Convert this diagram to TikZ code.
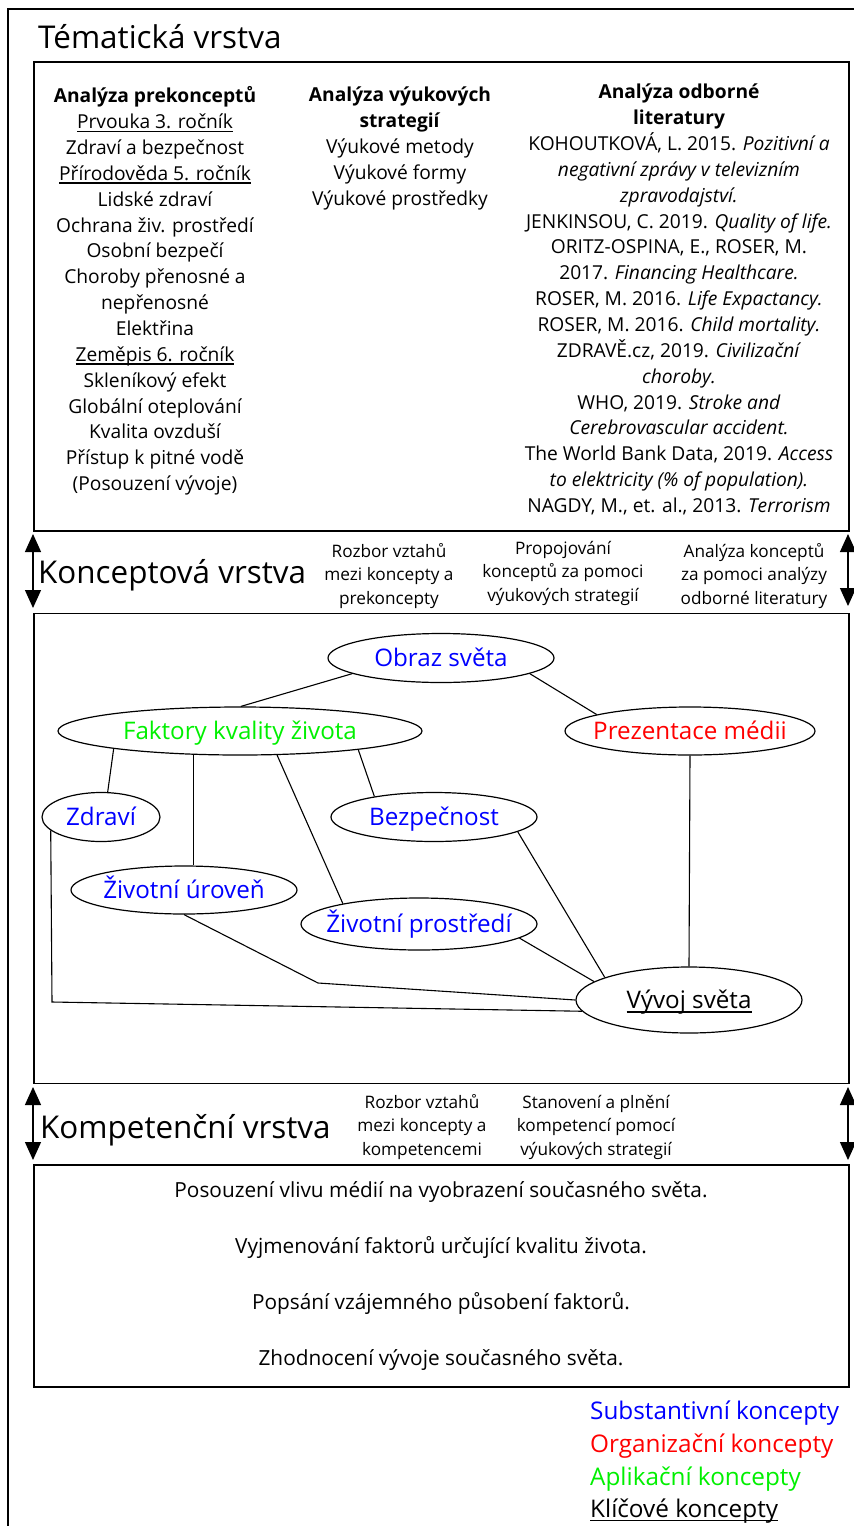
\documentclass[tikz,border=0pt]{standalone}
\usepackage{fontspec}
\setmainfont{Open Sans}
\usetikzlibrary{shapes.geometric,arrows.meta}

\definecolor{subst}{RGB}{0,0,255}
\definecolor{organ}{RGB}{255,0,0}
\definecolor{aplik}{RGB}{0,240,0}

% underline at a fixed distance below the baseline
\newcommand\myul[1]{\setbox0\hbox{#1}\rlap{\rule[-0.17em]{\wd0}{0.065em}}\box0}
% concept label of zero width, so the ellipse keeps its given size
\newcommand\ctext[1]{\makebox[0pt]{#1}}

\tikzset{
  layerbox/.style={draw, line width=1.6pt, inner sep=0pt},
  layertitle/.style={anchor=base west, inner sep=0pt, font=\fontsize{31.4}{36}\selectfont},
  coltext/.style={align=center, inner sep=0pt, font=\fontsize{19.2}{25.85}\selectfont},
  smalltext/.style={align=center, inner sep=0pt, font=\fontsize{17.2}{23.5}\selectfont},
  concept/.style={ellipse, draw, line width=1.2pt, inner sep=0pt, text height=17pt, text depth=0pt,
    font=\fontsize{24.2}{28}\selectfont},
  link/.style={line width=1.1pt},
  updown/.style={line width=1.3pt, {Triangle[width=16pt,length=18pt]}-{Triangle[width=16pt,length=18pt]}},
  legend/.style={anchor=base west, inner sep=0pt, font=\fontsize{24.3}{28}\selectfont}
}

\begin{document}
\begin{tikzpicture}[x=1pt,y=-1pt]
\useasboundingbox (0,0) rectangle (854,1526);
\clip (0,0) rectangle (854,1526);
\fill[white] (0,0) rectangle (854,1526);

% outer frame, running off the page to the right and bottom
\draw[line width=2pt] (8,1540) -- (8,9) -- (870,9);

% ---------- thematic layer ----------
\node[layertitle] (tTitle) at (38,48) {Tématická vrstva};
\node[layerbox, minimum width=815pt, minimum height=469pt] (box1) at (441.5,296.5) {};

\node[coltext] (prekon) at (155,291) {\textbf{Analýza prekonceptů}\\
\myul{Prvouka 3. ročník}\\
Zdraví a bezpečnost\\
\myul{Přírodověda 5. ročník}\\
Lidské zdraví\\
Ochrana živ. prostředí\\
Osobní bezpečí\\
Choroby přenosné a\\
nepřenosné\\
Elektřina\\
\myul{Zeměpis 6. ročník}\\
Skleníkový efekt\\
Globální oteplování\\
Kvalita ovzduší\\
Přístup k pitné vodě\\
(Posouzení vývoje)};

\node[coltext] (strat) at (400,148.5) {\textbf{Analýza výukových}\\
\textbf{strategií}\\
Výukové metody\\
Výukové formy\\
Výukové prostředky};

\node[coltext] (liter) at (679,299.5) {\textbf{Analýza odborné}\\
\textbf{literatury}\\
KOHOUTKOVÁ, L. 2015. \textit{Pozitivní a}\\
\textit{negativní zprávy v televizním}\\
\textit{zpravodajství.}\\
JENKINSOU, C. 2019. \textit{Quality of life.}\\
ORITZ-OSPINA, E., ROSER, M.\\
2017. \textit{Financing Healthcare.}\\
ROSER, M. 2016. \textit{Life Expactancy.}\\
ROSER, M. 2016. \textit{Child mortality.}\\
ZDRAVĚ.cz, 2019. \textit{Civilizační}\\
\textit{choroby.}\\
WHO, 2019. \textit{Stroke and}\\
\textit{Cerebrovascular accident.}\\
The World Bank Data, 2019. \textit{Access}\\
\textit{to elektricity (\% of population).}\\
NAGDY, M., et. al., 2013. \textit{Terrorism}};

% ---------- conceptual layer ----------
\coordinate (kL1) at (33,534);  \coordinate (kL2) at (33,608);
\coordinate (kR1) at (848,534); \coordinate (kR2) at (848,606);
\draw[updown] (kL1) -- (kL2);
\draw[updown] (kR1) -- (kR2);
\node[layertitle] (kTitle) at (38,583) {Konceptová vrstva};
\node[smalltext] (relPre) at (389,576) {Rozbor vztahů\\mezi koncepty a\\prekoncepty};
\node[smalltext] (propoj) at (563,573) {Propojování\\konceptů za pomoci\\výukových strategií};
\node[smalltext] (analKon) at (754,576) {Analýza konceptů\\za pomoci analýzy\\odborné literatury};

\node[layerbox, minimum width=815pt, minimum height=470pt] (box2) at (441.5,848.5) {};

\node[concept, minimum width=226pt, minimum height=49pt, text=subst] (obraz) at (441,658) {\ctext{Obraz světa}};
\node[concept, minimum width=364pt, minimum height=48pt, text=aplik] (faktory) at (240,731) {\ctext{Faktory kvality života}};
\node[concept, minimum width=250pt, minimum height=48pt, text=organ] (prezentace) at (690,731) {\ctext{Prezentace médii}};
\node[concept, minimum width=118pt, minimum height=49pt, text=subst] (zdravi) at (101,817) {\ctext{Zdraví}};
\node[concept, minimum width=206pt, minimum height=49pt, text=subst] (bezpecnost) at (434,817) {\ctext{Bezpečnost}};
\node[concept, minimum width=226pt, minimum height=48pt, text=subst] (zivuroven) at (184,890) {\ctext{Životní úroveň}};
\node[concept, minimum width=236pt, minimum height=52pt, text=subst] (zivprostredi) at (419,924) {\ctext{Životní prostředí}};
\node[concept, minimum width=226pt, minimum height=66pt] (vyvoj) at (689,1000) {\ctext{\myul{Vývoj světa}}};

\coordinate (bendA) at (318,983);
\coordinate (bendB) at (52,1002);

\draw[link] (obraz.190) -- (faktory.88);
\draw[link] (obraz.-10) -- (prezentace.170);
\draw[link] (faktory.188) -- (zdravi.75);
\draw[link] (faktory.-153) -- (faktory.-153 |- zivuroven.north);
\draw[link] (faktory.-33) -- (zivprostredi.165);
\draw[link] (faktory.-9) -- (bezpecnost.161);
\draw[link] (prezentace.south) -- (vyvoj.north);
\draw[link] (bezpecnost.-10) -- (vyvoj.165);
\draw[link] (zivprostredi.-8) -- (vyvoj.169);
\draw[link] (zivuroven.south) -- (bendA) -- (vyvoj.west);
\draw[link] (zdravi.195) -- (bendB) -- (vyvoj.186);

% ---------- competence layer ----------
\coordinate (cL1) at (33,1087);  \coordinate (cL2) at (33,1160);
\coordinate (cR1) at (848,1087); \coordinate (cR2) at (848,1160);
\draw[updown] (cL1) -- (cL2);
\draw[updown] (cR1) -- (cR2);
\node[layertitle] (cTitle) at (40,1138) {Kompetenční vrstva};
\node[smalltext] (relKomp) at (422,1127) {Rozbor vztahů\\mezi koncepty a\\kompetencemi};
\node[smalltext] (stanov) at (596,1127) {Stanovení a plnění\\kompetencí pomocí\\výukových strategií};

\node[layerbox, minimum width=815pt, minimum height=222pt] (box3) at (441.5,1276) {};
\node[align=center, inner sep=0pt, font=\fontsize{20.8}{56.3}\selectfont] (kompet) at (441,1276)
  {Posouzení vlivu médií na vyobrazení současného světa.\\
   Vyjmenování faktorů určující kvalitu života.\\
   Popsání vzájemného působení faktorů.\\
   Zhodnocení vývoje současného světa.};

% ---------- legend ----------
\node[legend, text=subst] (legS) at (590,1419) {Substantivní koncepty};
\node[legend, text=organ] (legO) at (590,1452) {Organizační koncepty};
\node[legend, text=aplik] (legA) at (590,1485) {Aplikační koncepty};
\node[legend] (legK) at (590,1517) {\myul{Klíčové koncepty}};
\end{tikzpicture}
\end{document}
